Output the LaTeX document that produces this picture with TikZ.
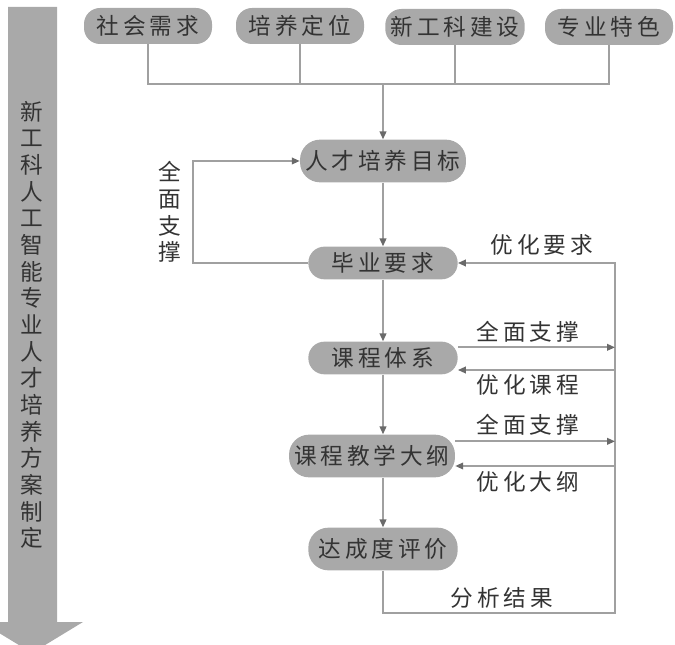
\documentclass[tikz,border=0pt]{standalone}
\usepackage{fontspec}
\setmainfont[LetterSpace=17]{Noto Sans CJK SC}
\usetikzlibrary{arrows.meta, calc}
\definecolor{BoxGray}{HTML}{A9A9A9}
\definecolor{LineGray}{HTML}{A0A0A0}
\definecolor{TipGray}{HTML}{6A6A6A}
\definecolor{TextGray}{HTML}{333333}
\tikzset{
  topbox/.style={fill=BoxGray, rounded corners=12pt, inner xsep=4pt,
    minimum height=27pt, minimum width=96pt, text=TextGray,
    font=\fontsize{17pt}{20pt}\selectfont},
  midbox/.style={fill=BoxGray, rounded corners=12pt, inner xsep=4pt,
    minimum height=24.5pt, minimum width=112pt, text=TextGray,
    font=\fontsize{17pt}{20pt}\selectfont},
  tallbox/.style={midbox, rounded corners=15pt, minimum height=32pt},
  lbl/.style={text=TextGray, font=\fontsize{17pt}{20pt}\selectfont},
  vlbl/.style={lbl, align=center, inner sep=0pt},
  link/.style={draw=LineGray, line width=1.3pt},
  flow/.style={link, -{Triangle[length=6pt, width=5pt, color=TipGray]}},
}

\begin{document}
\begin{tikzpicture}[x=0.75pt, y=-0.75pt]
    \useasboundingbox (0,0) rectangle (675,645);
    \clip (0,0) rectangle (675,645);
    % big arrow on the left
    \fill[BoxGray] (8,7) -- (57,7) -- (57,622) -- (83,622) -- (32,653)
      -- (-19,622) -- (8,622) -- cycle;
    \node[vlbl] (plan) at (32,325) {新\\工\\科\\人\\工\\智\\能\\专\\业\\人\\才\\培\\养\\方\\案\\制\\定};

    % inputs
    \node[topbox] (shxq) at (148,26) {社会需求};
    \node[topbox] (pydw) at (300,26) {培养定位};
    \node[topbox] (xgkjs) at (455,27) {新工科建设};
    \node[topbox] (zyts) at (609,27) {专业特色};
    \coordinate (bus) at (383,84);

    % main chain
    \node[tallbox] (rcmb) at (383,161) {人才培养目标};
    \node[midbox] (byyq) at (383,263) {毕业要求};
    \node[midbox] (kctx) at (383,358) {课程体系};
    \node[tallbox] (kcdg) at (372,456) {课程教学大纲};
    \node[tallbox] (dcd) at (383,549) {达成度评价};

    \coordinate (lp) at (193,263);
    \coordinate (rt) at (615,263);
    \coordinate (rb) at (615,613);

    \draw[link] (shxq.south) |- (bus) -| (zyts.south);
    \draw[link] (pydw.south) -- (pydw.south |- bus);
    \draw[link] (xgkjs.south) -- (xgkjs.south |- bus);
    \draw[flow] (bus) -- (rcmb.north);
    \draw[flow] (rcmb) -- (byyq);
    \draw[flow] (byyq) -- (kctx);
    \draw[flow] (kctx.south) -- (kctx.south |- kcdg.north);
    \draw[flow] (kctx.south |- kcdg.south) -- (dcd.north);

    % feedback loops
    \draw[flow] (byyq.west) -- (lp) |- (rcmb.west);
    \node[vlbl] (qm1) at (170,212) {全\\面\\支\\撑};
    \draw[flow] (dcd.south) |- (rb) -- (rt) -- (byyq.east);
    \node[lbl] (yhyq) at (542,245) {优化要求};
    \node[lbl] (fxjg) at (502,598) {分析结果};

    \draw[flow] ([yshift=8pt]kctx.east) -- ([yshift=8pt]kctx.east -| rt);
    \draw[flow] ([yshift=-9pt]kctx.east -| rt) -- ([yshift=-9pt]kctx.east);
    \node[lbl] (qm2) at (528,332) {全面支撑};
    \node[lbl] (yhkc) at (528,385) {优化课程};

    \draw[flow] ([yshift=11pt]kcdg.east) -- ([yshift=11pt]kcdg.east -| rt);
    \draw[flow] ([yshift=-7.5pt]kcdg.east -| rt) -- ([yshift=-7.5pt]kcdg.east);
    \node[lbl] (qm3) at (528,425) {全面支撑};
    \node[lbl] (yhdg) at (528,482) {优化大纲};
  \end{tikzpicture}
\end{document}
